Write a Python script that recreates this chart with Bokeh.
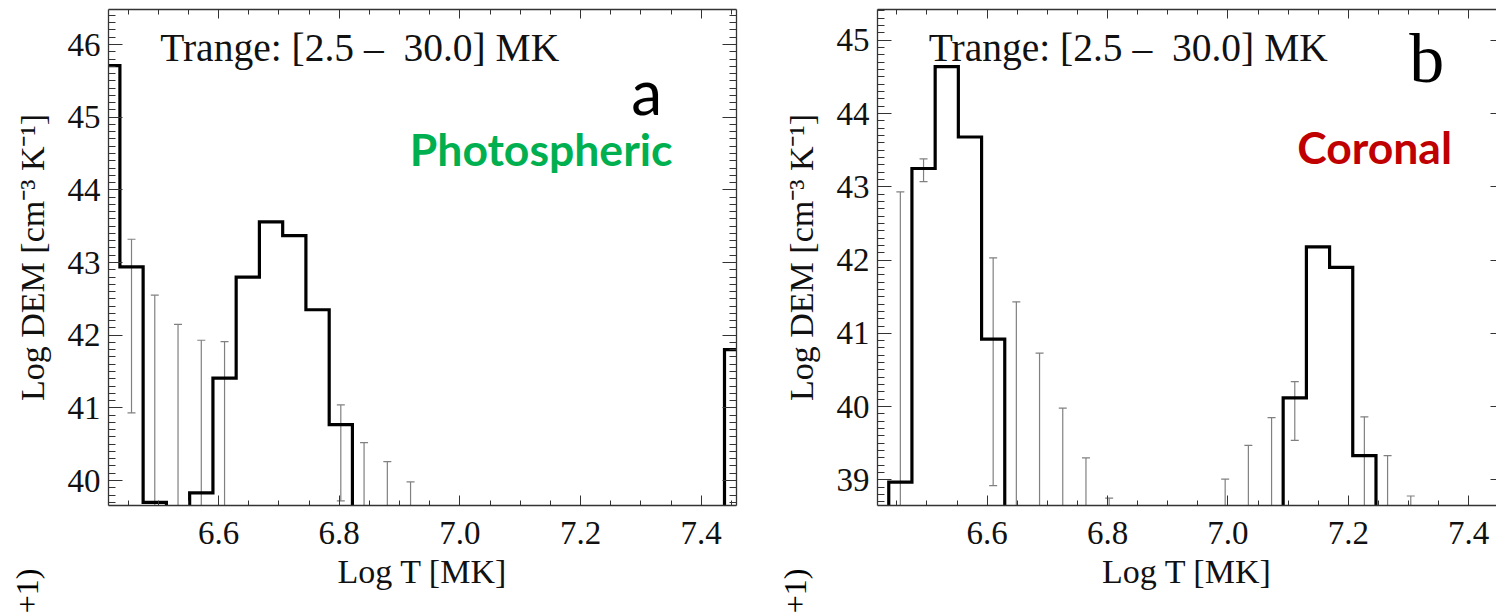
import numpy as np
from bokeh.plotting import figure
from bokeh.models import (Range1d, LinearAxis, SingleIntervalTicker, Label,
                          PrintfTickFormatter, CustomJSTickFormatter, GridBox)
from bokeh.core.properties import value
from bokeh.embed import file_html
from bokeh.resources import INLINE

# Temperature bin edges, log10(T) from 2.5 MK to 30 MK (28 bins)
logT_edges = [6.3979, 6.4365, 6.4750, 6.5136, 6.5521, 6.5907, 6.6292, 6.6677,
              6.7063, 6.7448, 6.7834, 6.8219, 6.8605, 6.8990, 6.9375, 6.9761,
              7.0146, 7.0532, 7.0917, 7.1303, 7.1688, 7.2073, 7.2459, 7.2844,
              7.3230, 7.3615, 7.4001, 7.4386, 7.4771]

# Log DEM per bin; 30.0 marks empty bins that fall below the plotted floor
dem_photospheric = [45.71, 42.94, 39.70, 30.0, 39.83, 41.41, 42.80, 43.56,
                    43.37, 42.35, 40.77, 30.0, 30.0, 30.0, 30.0, 30.0,
                    30.0, 30.0, 30.0, 30.0, 30.0, 30.0, 30.0, 30.0,
                    30.0, 30.0, 30.0, 41.80]
dem_coronal = [30.0, 38.97, 43.25, 44.64, 43.68, 40.92, 30.0, 30.0,
               30.0, 30.0, 30.0, 30.0, 30.0, 30.0, 30.0, 30.0,
               30.0, 30.0, 40.12, 42.18, 41.90, 39.33, 30.0, 30.0,
               30.0, 30.0, 30.0, 30.0]

# Uncertainty ranges (bin index, lower, upper)
err_phot_bin = [1, 2, 3, 4, 5, 10, 11, 12, 13]
err_phot_lo = [40.93, 30.0, 30.0, 30.0, 30.0, 39.72, 30.0, 30.0, 30.0]
err_phot_hi = [43.32, 42.55, 42.15, 41.93, 41.91, 41.04, 40.52, 40.26, 39.98]

err_cor_bin = [1, 2, 5, 6, 7, 8, 9, 10, 15, 16, 17, 18, 21, 22, 23]
err_cor_lo = [30.0, 43.07, 38.92, 30.0, 30.0, 30.0, 30.0, 30.0,
              30.0, 30.0, 30.0, 39.54, 30.0, 30.0, 30.0]
err_cor_hi = [42.93, 43.38, 42.03, 41.43, 40.73, 39.98, 39.30, 38.75,
              39.01, 39.47, 39.85, 40.34, 39.86, 39.33, 38.78]

SERIF = "Liberation Serif"
SANS = "Lato"
AXIS_COLOR = "#333333"
ERR_COLOR = "#808080"
TEXT_COLOR = "#111111"

edges = np.array(logT_edges)
centers = 0.5 * (edges[:-1] + edges[1:])


def blank_axis(ticker, tick_in, minor_in, show_line=True):
    return LinearAxis(ticker=ticker,
                      formatter=CustomJSTickFormatter(code="return ''"),
                      major_label_text_font_size="1px",
                      major_label_standoff=0,
                      major_tick_in=tick_in, major_tick_out=0,
                      minor_tick_in=minor_in, minor_tick_out=0,
                      axis_line_color=AXIS_COLOR if show_line else None,
                      axis_line_width=1.3,
                      major_tick_line_color=AXIS_COLOR,
                      minor_tick_line_color=AXIS_COLOR)


def dem_panel(width, border_left, border_right, xr, yr, dem, eb, elo, ehi,
              right_line=True, right_minor=7):
    p = figure(width=width, height=612,
               x_range=Range1d(*xr), y_range=Range1d(*yr),
               output_backend="svg", toolbar_location=None,
               x_axis_location=None, y_axis_location=None,
               min_border_left=border_left, min_border_right=border_right,
               min_border_top=9, min_border_bottom=107,
               outline_line_color=None, frame_align=False,
               background_fill_color="white", border_fill_color="white")
    p.grid.visible = False

    xt = dict(interval=0.2, num_minor_ticks=4)
    yt = dict(interval=1.0, num_minor_ticks=10)

    xb = LinearAxis(ticker=SingleIntervalTicker(**xt),
                    formatter=PrintfTickFormatter(format="%.1f"),
                    axis_label="Log T [MK]",
                    axis_label_text_font=SERIF,
                    axis_label_text_font_size="34px",
                    axis_label_text_font_style="normal",
                    axis_label_text_color=TEXT_COLOR,
                    axis_label_standoff=6,
                    major_label_text_font=SERIF,
                    major_label_text_font_size="33px",
                    major_label_text_color=TEXT_COLOR,
                    major_label_standoff=16,
                    major_tick_in=10, major_tick_out=0,
                    minor_tick_in=5, minor_tick_out=0,
                    axis_line_color=AXIS_COLOR, axis_line_width=1.3,
                    major_tick_line_color=AXIS_COLOR,
                    minor_tick_line_color=AXIS_COLOR)
    p.add_layout(xb, "below")

    yl = LinearAxis(ticker=SingleIntervalTicker(**yt),
                    formatter=PrintfTickFormatter(format="%d"),
                    axis_label="Log DEM [cm\u207B\u00B3 K\u207B\u00B9]",
                    axis_label_text_font=SERIF,
                    axis_label_text_font_size="34px",
                    axis_label_text_font_style="normal",
                    axis_label_text_color=TEXT_COLOR,
                    axis_label_standoff=14,
                    major_label_text_font=SERIF,
                    major_label_text_font_size="33px",
                    major_label_text_color=TEXT_COLOR,
                    major_label_standoff=8,
                    major_tick_in=14, major_tick_out=0,
                    minor_tick_in=7, minor_tick_out=0,
                    axis_line_color=AXIS_COLOR, axis_line_width=1.3,
                    major_tick_line_color=AXIS_COLOR,
                    minor_tick_line_color=AXIS_COLOR)
    p.add_layout(yl, "left")

    p.add_layout(blank_axis(SingleIntervalTicker(**xt), 9, 5), "above")
    p.add_layout(blank_axis(SingleIntervalTicker(**yt), 14 if right_line else 6,
                            right_minor, show_line=right_line), "right")

    # uncertainty bars
    ex = centers[eb]
    p.segment(x0=ex, y0=elo, x1=ex, y1=ehi, line_color=ERR_COLOR, line_width=1.2)
    p.scatter(x=ex, y=ehi, marker="dash", size=8, line_color=ERR_COLOR, line_width=1.2)
    p.scatter(x=ex, y=elo, marker="dash", size=8, line_color=ERR_COLOR, line_width=1.2)

    # DEM histogram outline
    p.step(x=edges, y=list(dem) + [dem[-1]], mode="after",
           line_color="black", line_width=3.2, line_join="miter")
    return p


def note(x, y, text, font, size, color, style="normal"):
    return Label(x=x, y=y, text=text, text_font=font, text_font_size=size,
                 text_color=color, text_font_style=style,
                 text_baseline="middle", text_align="left")


p1 = dem_panel(760, 108, 24, (6.4176, 7.4585), (39.656, 46.482),
               dem_photospheric, err_phot_bin, err_phot_lo, err_phot_hi)
p2 = dem_panel(736, 117, 0, (6.4178, 7.4461), (38.65, 45.42),
               dem_coronal, err_cor_bin, err_cor_lo, err_cor_hi,
               right_line=False, right_minor=0)

trange = "Trange: [2.5 \u2013 \u00a030.0] MK"
p1.add_layout(note(6.5033, 45.952, trange, SERIF, "39.5px", TEXT_COLOR))
p2.add_layout(note(6.503, 44.894, trange, SERIF, "39.5px", TEXT_COLOR))

p1.add_layout(note(7.284, 45.364, "a", SANS, "62px", "black"))
p1.add_layout(note(6.917, 44.572, "Photospheric", SANS, "44.5px", "#00B050", "bold"))

p2.add_layout(note(7.301, 44.746, "b", SERIF, "70px", "black"))
p2.add_layout(note(7.115, 43.553, "Coronal", SANS, "44.5px", "#C00000", "bold"))

# transparent layer for the cut-off axis-title tails below both panels
tail = figure(width=1496, height=612, x_range=Range1d(0, 1496), y_range=Range1d(0, 612),
              output_backend="svg", toolbar_location=None,
              x_axis_location=None, y_axis_location=None, min_border=0,
              frame_align=False,
              outline_line_color=None, background_fill_color=None,
              border_fill_color=None)
tail.grid.visible = False
tail_x = [26, 794]
tail_y = [44, 44]
tail.text(x=tail_x, y=tail_y, text=["+1)", "+1)"], angle=np.pi / 2,
          text_font=value(SERIF), text_font_size="32px", text_color="black",
          text_align="right", text_baseline="middle")

layout = GridBox(children=[(p1, 0, 0), (p2, 0, 1), (tail, 0, 0, 1, 2)])
open("out.html", "w").write(file_html(layout, INLINE))
